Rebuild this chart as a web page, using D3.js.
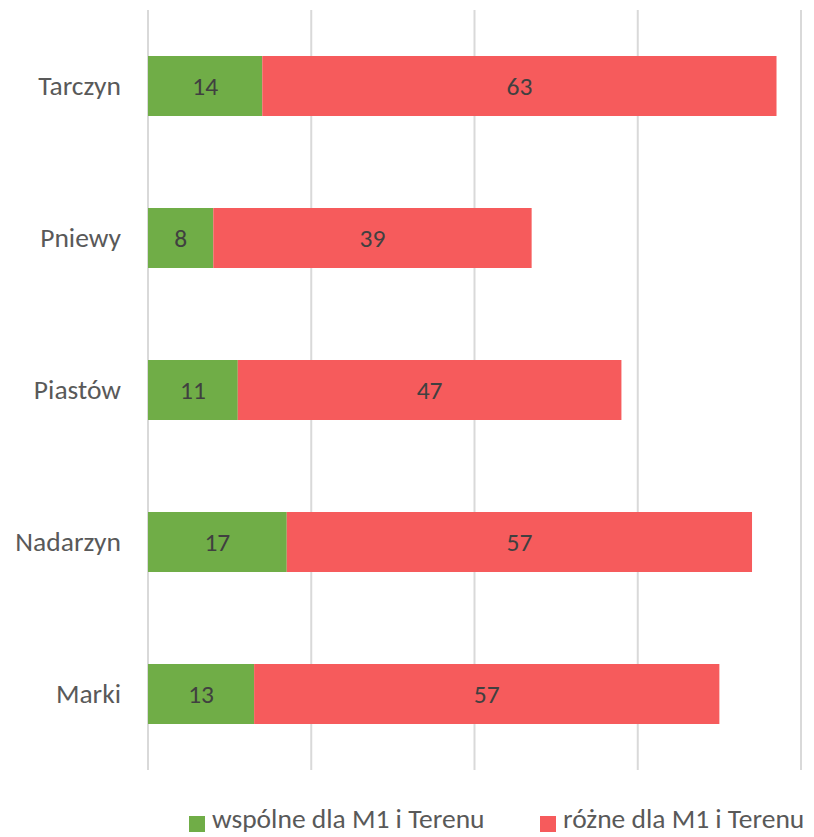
<!DOCTYPE html>
<html><head><meta charset="utf-8">
<script src="https://cdn.jsdelivr.net/npm/d3@7"></script>
<style>body{margin:0;background:#fff}</style>
</head><body>
<svg id="c" width="814" height="837"></svg>
<script>
const categories = ["Tarczyn","Pniewy","Piastów","Nadarzyn","Marki"];
const wspolne = [14, 8, 11, 17, 13];
const rozne = [63, 39, 47, 57, 57];
const seriesNames = ["wspólne dla M1 i Terenu","różne dla M1 i Terenu"];
const xTicks = [0,20,40,60,80];
const colors = ["#70AD47","#F65B5C"];
const font = "Carlito, Calibri, Lato, sans-serif";

const svg = d3.select("#c");
const x = d3.scaleLinear().domain([0,80]).range([148,801]);
const y = d3.scaleBand().domain(categories).range([10,770]).paddingInner(1-60/152).paddingOuter((1-60/152)/2);

svg.append("g").selectAll("line").data(xTicks).join("line")
  .attr("x1",d=>x(d)).attr("x2",d=>x(d)).attr("y1",10).attr("y2",770)
  .attr("stroke","#d9d9d9").attr("stroke-width",2);

const data = categories.map((c,i)=>({c, vals:[wspolne[i], rozne[i]]}));
const stack = d3.stack().keys([0,1]).value((d,k)=>d.vals[k]);
const st = stack(data);

st.forEach((layer,k)=>{
  const g = svg.append("g");
  g.selectAll("rect").data(layer).join("rect")
    .attr("x",d=>x(d[0])).attr("width",d=>x(d[1])-x(d[0]))
    .attr("y",d=>y(d.data.c)).attr("height",y.bandwidth())
    .attr("fill",colors[k]);
  g.selectAll("text").data(layer).join("text")
    .attr("x",d=>(x(d[0])+x(d[1]))/2).attr("y",d=>y(d.data.c)+y.bandwidth()/2+9)
    .attr("text-anchor","middle")
    .attr("font-family",font).attr("font-size",25.5).attr("fill","#404040")
    .text(d=>d.data.vals[k]);
});

svg.append("g").selectAll("text").data(categories).join("text")
  .attr("x",121).attr("y",d=>y(d)+y.bandwidth()/2+9)
  .attr("text-anchor","end")
  .attr("font-family",font).attr("font-size",27.5).attr("fill","#595959")
  .text(d=>d);

const legX = [189, 540];
const lg = svg.append("g");
seriesNames.forEach((n,i)=>{
  lg.append("rect").attr("x",legX[i]).attr("y",816).attr("width",16).attr("height",16).attr("fill",colors[i]);
  lg.append("text").attr("x",legX[i]+23).attr("y",828)
    .attr("font-family",font).attr("font-size",27.5).attr("fill","#595959").text(n);
});
</script>
</body></html>
